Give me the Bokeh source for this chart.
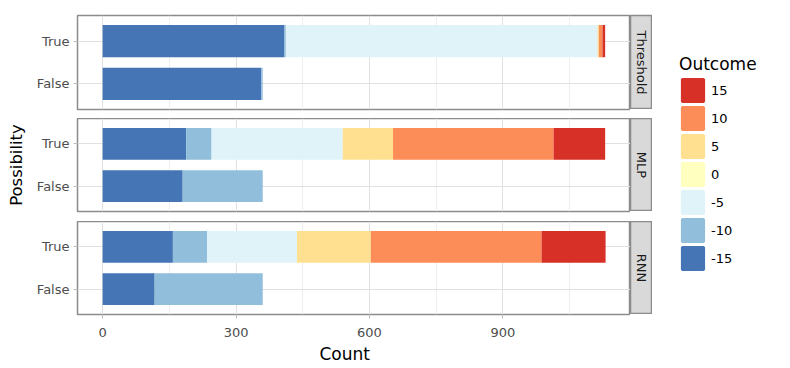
import math
from bokeh.plotting import figure
from bokeh.models import (ColumnDataSource, FactorRange, Range1d, Label, Legend,
                          LegendItem, Title, FixedTicker)
from bokeh.layouts import row, column
from bokeh.embed import file_html
from bokeh.resources import INLINE

# ---- data ----
outcomes = ["-15", "-10", "-5", "0", "5", "10", "15"]
colors = ["#4575b4", "#91bfdb", "#e0f3f8", "#ffffbf", "#fee090", "#fc8d59", "#d73027"]
possibility = ["False", "True"]
models = ["Threshold", "MLP", "RNN"]

threshold_false = [357, 3, 0, 0, 0, 0, 0]
threshold_true = [409, 3, 701, 0, 3, 8, 6]
mlp_false = [180, 180, 0, 0, 0, 0, 0]
mlp_true = [188, 57, 295, 0, 113, 361, 116]
rnn_false = [117, 243, 0, 0, 0, 0, 0]
rnn_true = [158, 77, 202, 0, 166, 384, 144]

x_ticks = [0, 300, 600, 900]
x_minor = [150, 450, 750, 1050]

FONT = "DejaVu Sans"
BORDER = "#8c8c8c"


def panel(name, false_vals, true_vals, top, fh, bottom, last=False, ylabel=None):
    data = {"cat": possibility}
    for i, o in enumerate(outcomes):
        data[o] = [false_vals[i], true_vals[i]]
    src = ColumnDataSource(data)
    p = figure(y_range=FactorRange(factors=possibility, range_padding=0.1,
                                   range_padding_units="percent"),
               x_range=Range1d(-56.5, 1187), frame_width=553, frame_height=fh,
               output_backend="svg", toolbar_location=None,
               min_border_left=77, min_border_right=0,
               min_border_top=top, min_border_bottom=bottom)
    p.hbar_stack(outcomes, y="cat", height=0.75, color=colors, source=src,
                 line_color=None)
    ticker = FixedTicker(ticks=x_ticks, minor_ticks=x_minor)
    p.xaxis.ticker = ticker
    p.xgrid.ticker = ticker
    p.xgrid.grid_line_color = "#e0e0e0"
    p.xgrid.minor_grid_line_color = "#eeeeee"
    p.ygrid.grid_line_color = "#e0e0e0"
    p.outline_line_color = BORDER
    p.outline_line_width = 1.5
    p.background_fill_color = "white"
    p.border_fill_color = "white"

    ya = p.yaxis[0]
    ya.axis_line_color = None
    ya.major_tick_in = 0
    ya.major_tick_out = 4
    ya.major_tick_line_color = "#bdbdbd"
    ya.major_label_standoff = 4
    ya.major_label_text_font = FONT
    ya.major_label_text_font_size = "13px"
    ya.major_label_text_color = "#4d4d4d"
    if ylabel:
        ya.axis_label = ylabel
        ya.axis_label_text_font = FONT
        ya.axis_label_text_font_size = "16.5px"
        ya.axis_label_text_font_style = "normal"
        ya.axis_label_text_color = "black"
        ya.axis_label_standoff = 8

    xa = p.xaxis[0]
    if last:
        xa.axis_line_color = None
        xa.major_tick_in = 0
        xa.major_tick_out = 4
        xa.minor_tick_line_color = None
        xa.major_tick_line_color = "#bdbdbd"
        xa.major_label_standoff = 9
        xa.major_label_text_font = FONT
        xa.major_label_text_font_size = "13px"
        xa.major_label_text_color = "#4d4d4d"
        t = Title(text="Count", align="left", offset=242, text_font=FONT,
                  text_font_size="17px", text_font_style="normal",
                  text_color="black", standoff=5)
        p.add_layout(t, "below")
    else:
        xa.visible = False

    s = figure(x_range=Range1d(0, 1), y_range=Range1d(0, 1), frame_width=22,
               frame_height=fh, output_backend="svg", toolbar_location=None,
               min_border_left=0, min_border_right=0, min_border_top=top,
               min_border_bottom=0)
    s.axis.visible = False
    s.grid.visible = False
    s.background_fill_color = "#d9d9d9"
    s.border_fill_color = "white"
    s.outline_line_color = BORDER
    s.outline_line_width = 1.5
    s.add_layout(Label(x=0.5, y=0.5, text=name, angle=-math.pi / 2,
                       text_align="center", text_baseline="middle",
                       text_font=FONT, text_font_size="13px",
                       text_color="#1a1a1a"))
    return row(p, s)


r1 = panel(models[0], threshold_false, threshold_true, 15, 94, 9)
r2 = panel(models[1], mlp_false, mlp_true, 0, 93, 10, ylabel="Possibility")
r3 = panel(models[2], rnn_false, rnn_true, 0, 93, 50, last=True)

lf = figure(frame_width=100, frame_height=280, output_backend="svg",
            x_range=Range1d(0, 1), y_range=Range1d(0, 1),
            toolbar_location=None, min_border_left=27, min_border_top=54,
            min_border_right=0, min_border_bottom=0)
lf.axis.visible = False
lf.grid.visible = False
lf.outline_line_color = None
nan = float("nan")
rends = {}
for o, c in zip(outcomes, colors):
    # legend-only renderers (no visible marks)
    rends[o] = lf.quad(left=[nan], right=[nan], top=[nan], bottom=[nan],
                       fill_color=c, line_color=c, line_width=2.6)
items = [LegendItem(label=o, renderers=[rends[o]]) for o in reversed(outcomes)]
legend = Legend(items=items, location="top_left", title="Outcome",
                title_text_font=FONT, title_text_font_size="17px",
                title_text_font_style="normal", title_text_color="black",
                title_standoff=2,
                label_text_font=FONT, label_text_font_size="13px",
                label_text_color="black", label_standoff=5,
                glyph_width=27, glyph_height=28, label_height=25, spacing=0,
                margin=0, padding=0, border_line_color=None,
                background_fill_alpha=0)
lf.add_layout(legend)

layout = row(column(r1, r2, r3), lf)

open("out.html", "w").write(file_html(layout, INLINE))
